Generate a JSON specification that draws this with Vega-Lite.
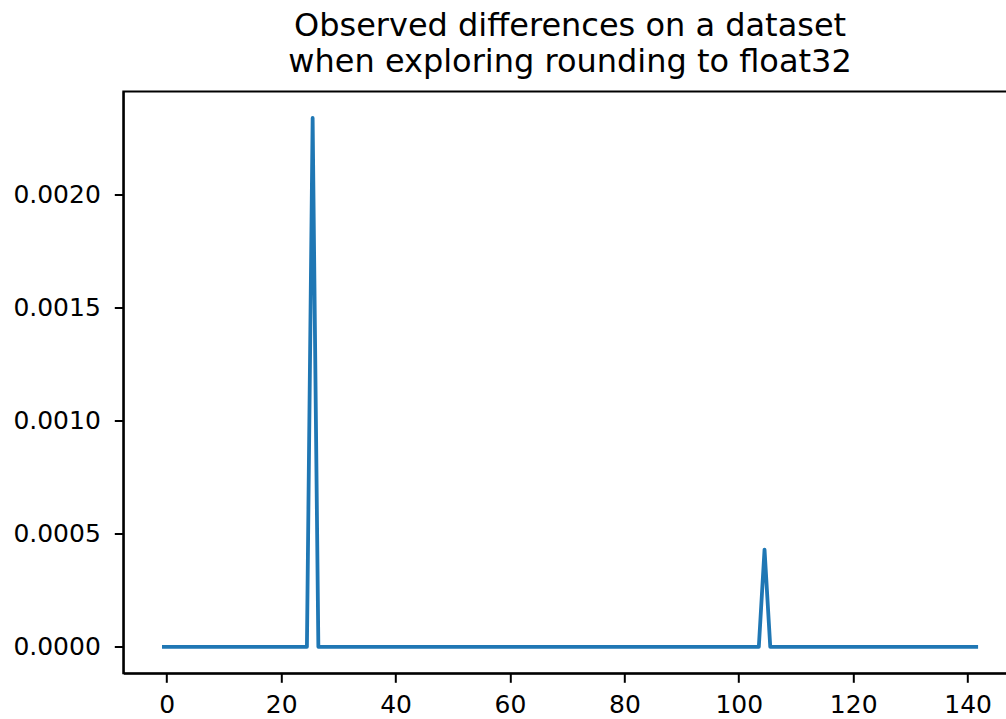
{
  "$schema": "https://vega.github.io/schema/vega-lite/v6.json",
  "autosize": "none",
  "width": 893.5,
  "height": 581.8,
  "padding": {"left": 123.3, "top": 91.5, "right": 0, "bottom": 45.7},
  "background": "white",
  "title": {
    "text": ["Observed differences on a dataset", "when exploring rounding to float32"],
    "font": "DejaVu Sans",
    "fontSize": 32,
    "fontWeight": "normal",
    "color": "black",
    "lineHeight": 36,
    "anchor": "middle",
    "frame": "group",
    "baseline": "alphabetic",
    "offset": -12.5
  },
  "data": {
    "values": [
      {"x": -0.5, "y": 0}, {"x": 0.5, "y": 0}, {"x": 1.5, "y": 0}, {"x": 2.5, "y": 0}, {"x": 3.5, "y": 0},
      {"x": 4.5, "y": 0}, {"x": 5.5, "y": 0}, {"x": 6.5, "y": 0}, {"x": 7.5, "y": 0}, {"x": 8.5, "y": 0},
      {"x": 9.5, "y": 0}, {"x": 10.5, "y": 0}, {"x": 11.5, "y": 0}, {"x": 12.5, "y": 0}, {"x": 13.5, "y": 0},
      {"x": 14.5, "y": 0}, {"x": 15.5, "y": 0}, {"x": 16.5, "y": 0}, {"x": 17.5, "y": 0}, {"x": 18.5, "y": 0},
      {"x": 19.5, "y": 0}, {"x": 20.5, "y": 0}, {"x": 21.5, "y": 0}, {"x": 22.5, "y": 0}, {"x": 23.5, "y": 0},
      {"x": 24.5, "y": 0}, {"x": 25.5, "y": 0.002337}, {"x": 26.5, "y": 0}, {"x": 27.5, "y": 0}, {"x": 28.5, "y": 0},
      {"x": 29.5, "y": 0}, {"x": 30.5, "y": 0}, {"x": 31.5, "y": 0}, {"x": 32.5, "y": 0}, {"x": 33.5, "y": 0},
      {"x": 34.5, "y": 0}, {"x": 35.5, "y": 0}, {"x": 36.5, "y": 0}, {"x": 37.5, "y": 0}, {"x": 38.5, "y": 0},
      {"x": 39.5, "y": 0}, {"x": 40.5, "y": 0}, {"x": 41.5, "y": 0}, {"x": 42.5, "y": 0}, {"x": 43.5, "y": 0},
      {"x": 44.5, "y": 0}, {"x": 45.5, "y": 0}, {"x": 46.5, "y": 0}, {"x": 47.5, "y": 0}, {"x": 48.5, "y": 0},
      {"x": 49.5, "y": 0}, {"x": 50.5, "y": 0}, {"x": 51.5, "y": 0}, {"x": 52.5, "y": 0}, {"x": 53.5, "y": 0},
      {"x": 54.5, "y": 0}, {"x": 55.5, "y": 0}, {"x": 56.5, "y": 0}, {"x": 57.5, "y": 0}, {"x": 58.5, "y": 0},
      {"x": 59.5, "y": 0}, {"x": 60.5, "y": 0}, {"x": 61.5, "y": 0}, {"x": 62.5, "y": 0}, {"x": 63.5, "y": 0},
      {"x": 64.5, "y": 0}, {"x": 65.5, "y": 0}, {"x": 66.5, "y": 0}, {"x": 67.5, "y": 0}, {"x": 68.5, "y": 0},
      {"x": 69.5, "y": 0}, {"x": 70.5, "y": 0}, {"x": 71.5, "y": 0}, {"x": 72.5, "y": 0}, {"x": 73.5, "y": 0},
      {"x": 74.5, "y": 0}, {"x": 75.5, "y": 0}, {"x": 76.5, "y": 0}, {"x": 77.5, "y": 0}, {"x": 78.5, "y": 0},
      {"x": 79.5, "y": 0}, {"x": 80.5, "y": 0}, {"x": 81.5, "y": 0}, {"x": 82.5, "y": 0}, {"x": 83.5, "y": 0},
      {"x": 84.5, "y": 0}, {"x": 85.5, "y": 0}, {"x": 86.5, "y": 0}, {"x": 87.5, "y": 0}, {"x": 88.5, "y": 0},
      {"x": 89.5, "y": 0}, {"x": 90.5, "y": 0}, {"x": 91.5, "y": 0}, {"x": 92.5, "y": 0}, {"x": 93.5, "y": 0},
      {"x": 94.5, "y": 0}, {"x": 95.5, "y": 0}, {"x": 96.5, "y": 0}, {"x": 97.5, "y": 0}, {"x": 98.5, "y": 0},
      {"x": 99.5, "y": 0}, {"x": 100.5, "y": 0}, {"x": 101.5, "y": 0}, {"x": 102.5, "y": 0}, {"x": 103.5, "y": 0},
      {"x": 104.5, "y": 0.00043}, {"x": 105.5, "y": 0}, {"x": 106.5, "y": 0}, {"x": 107.5, "y": 0}, {"x": 108.5, "y": 0},
      {"x": 109.5, "y": 0}, {"x": 110.5, "y": 0}, {"x": 111.5, "y": 0}, {"x": 112.5, "y": 0}, {"x": 113.5, "y": 0},
      {"x": 114.5, "y": 0}, {"x": 115.5, "y": 0}, {"x": 116.5, "y": 0}, {"x": 117.5, "y": 0}, {"x": 118.5, "y": 0},
      {"x": 119.5, "y": 0}, {"x": 120.5, "y": 0}, {"x": 121.5, "y": 0}, {"x": 122.5, "y": 0}, {"x": 123.5, "y": 0},
      {"x": 124.5, "y": 0}, {"x": 125.5, "y": 0}, {"x": 126.5, "y": 0}, {"x": 127.5, "y": 0}, {"x": 128.5, "y": 0},
      {"x": 129.5, "y": 0}, {"x": 130.5, "y": 0}, {"x": 131.5, "y": 0}, {"x": 132.5, "y": 0}, {"x": 133.5, "y": 0},
      {"x": 134.5, "y": 0}, {"x": 135.5, "y": 0}, {"x": 136.5, "y": 0}, {"x": 137.5, "y": 0}, {"x": 138.5, "y": 0},
      {"x": 139.5, "y": 0}, {"x": 140.5, "y": 0}, {"x": 141.5, "y": 0}
    ]
  },
  "mark": {
    "type": "line",
    "color": "#1f77b4",
    "strokeWidth": 3.8,
    "strokeCap": "square",
    "strokeJoin": "round",
    "clip": true
  },
  "encoding": {
    "x": {
      "field": "x",
      "type": "quantitative",
      "scale": {"domain": [-7.6, 148.6], "nice": false, "zero": false},
      "axis": {"values": [0, 20, 40, 60, 80, 100, 120, 140], "format": "d", "title": null, "labelPadding": 10}
    },
    "y": {
      "field": "y",
      "type": "quantitative",
      "scale": {"domain": [-0.00011685, 0.00245385], "nice": false, "zero": false},
      "axis": {"values": [0, 0.0005, 0.001, 0.0015, 0.002], "format": ".4f", "title": null, "labelPadding": 14}
    }
  },
  "config": {
    "view": {"stroke": "black", "strokeWidth": 2},
    "axis": {
      "grid": false,
      "domainColor": "black",
      "domainWidth": 2,
      "tickColor": "black",
      "tickWidth": 2,
      "tickSize": 9,
      "labelFont": "DejaVu Sans",
      "labelFontSize": 25,
      "labelColor": "black",
      "labelFlush": false,
      "labelOverlap": false
    }
  }
}
